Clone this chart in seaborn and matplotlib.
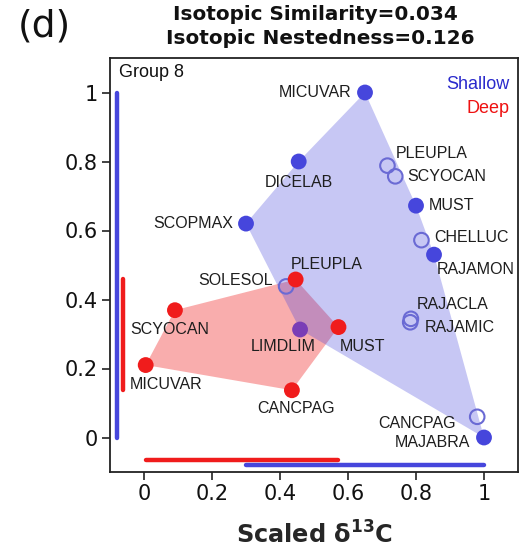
import numpy as np
import pandas as pd
import matplotlib
matplotlib.use("Agg")
import matplotlib.pyplot as plt
import seaborn as sns

# Shallow-water assemblage (scaled isotope positions)
shallow_species = ["MICUVAR", "DICELAB", "SCOPMAX", "MUST", "RAJAMON", "MAJABRA",
                   "PLEUPLA", "SCYOCAN", "CHELLUC", "RAJACLA", "RAJAMIC", "CANCPAG",
                   "SOLESOL", "LIMDLIM"]
shallow_d13c = [0.650, 0.455, 0.300, 0.800, 0.853, 1.000,
                0.716, 0.739, 0.816, 0.785, 0.783, 0.980,
                0.418, 0.459]
shallow_d15n = [1.000, 0.800, 0.620, 0.672, 0.530, 0.000,
                0.788, 0.757, 0.572, 0.344, 0.334, 0.060,
                0.438, 0.313]
# marker kind: filled, open, or shared with the deep assemblage
shallow_kind = ["filled", "filled", "filled", "filled", "filled", "filled",
                "open", "open", "open", "open", "open", "open",
                "open", "shared"]

# Deep-water assemblage
deep_species = ["PLEUPLA", "SCYOCAN", "MICUVAR", "CANCPAG", "MUST", "LIMDLIM"]
deep_d13c = [0.446, 0.091, 0.005, 0.435, 0.572, 0.459]
deep_d15n = [0.458, 0.369, 0.210, 0.137, 0.320, 0.313]

similarity = 0.034
nestedness = 0.126

x_ticks = [0, 0.2, 0.4, 0.6, 0.8, 1]
y_ticks = [0, 0.2, 0.4, 0.6, 0.8, 1]
x_tick_labels = ["0", "0.2", "0.4", "0.6", "0.8", "1"]
y_tick_labels = ["0", "0.2", "0.4", "0.6", "0.8", "1"]

BLUE = "#4646dc"
BLUE_OPEN = "#6a6ad4"
RED = "#f01c1c"
PURPLE = "#7a3db6"
TXT = "#1e1e1e"

# label placement (offset in pixels, horizontal alignment)
shallow_label_pos = {
    "MICUVAR": (-14, 0, "right"), "DICELAB": (0, -21, "center"),
    "SCOPMAX": (-13, 0, "right"), "MUST": (13, 0, "left"),
    "RAJAMON": (3, -15, "left"), "MAJABRA": (-14, -5, "right"),
    "PLEUPLA": (8, 12, "left"), "SCYOCAN": (12, 0, "left"),
    "CHELLUC": (13, 3, "left"), "RAJACLA": (6, 14, "left"),
    "RAJAMIC": (15, -5, "left"), "CANCPAG": (-21, -7, "right"),
    "SOLESOL": (-13, 6, "right"), "LIMDLIM": (-17, -17, "center"),
}
deep_label_pos = {
    "PLEUPLA": (-5, 15, "left"), "SCYOCAN": (-5, -19, "center"),
    "MICUVAR": (20, -19, "center"), "CANCPAG": (4, -18, "center"),
    "MUST": (1, -19, "left"), "LIMDLIM": None,
}


def convex_hull(xs, ys):
    pts = sorted(set(zip(xs, ys)))

    def cross(o, a, b):
        return (a[0] - o[0]) * (b[1] - o[1]) - (a[1] - o[1]) * (b[0] - o[0])

    lower, upper = [], []
    for p in pts:
        while len(lower) >= 2 and cross(lower[-2], lower[-1], p) <= 0:
            lower.pop()
        lower.append(p)
    for p in reversed(pts):
        while len(upper) >= 2 and cross(upper[-2], upper[-1], p) <= 0:
            upper.pop()
        upper.append(p)
    hull = lower[:-1] + upper[:-1]
    return np.array(hull)


sns.set_style("ticks")
plt.rcParams["font.family"] = ["DejaVu Sans"]

shallow = pd.DataFrame({"species": shallow_species, "x": shallow_d13c,
                        "y": shallow_d15n, "kind": shallow_kind})
deep = pd.DataFrame({"species": deep_species, "x": deep_d13c, "y": deep_d15n})

fig = plt.figure(figsize=(5.27, 5.49), dpi=100)
ax = fig.add_axes([110 / 527, 1 - 472 / 549, 408 / 527, 414 / 549])

# convex hulls
h_d = convex_hull(deep.x, deep.y)
ax.fill(h_d[:, 0], h_d[:, 1], color=RED, alpha=0.36, lw=0, zorder=1)
h_s = convex_hull(shallow.x, shallow.y)
ax.fill(h_s[:, 0], h_s[:, 1], color=BLUE, alpha=0.3, lw=0, zorder=2)

# ranges along each axis
bar_kw = dict(lw=3.2, solid_capstyle="round", zorder=3)
ax.plot([-0.079, -0.079], [shallow.y.min(), shallow.y.max()], color=BLUE, **bar_kw)
ax.plot([-0.061, -0.061], [deep.y.min(), deep.y.max()], color=RED, **bar_kw)
ax.plot([deep.x.min(), deep.x.max()], [-0.064, -0.064], color=RED, **bar_kw)
ax.plot([shallow.x.min(), shallow.x.max()], [-0.081, -0.081], color=BLUE, **bar_kw)

# points
open_pts = shallow[shallow.kind == "open"]
sns.scatterplot(data=open_pts, x="x", y="y", ax=ax, s=110, facecolor="none",
                edgecolor=BLUE_OPEN, linewidth=1.5, zorder=4, legend=False)
sns.scatterplot(data=deep[deep.species != "LIMDLIM"], x="x", y="y", ax=ax, s=130,
                color=RED, edgecolor="none", zorder=5, legend=False)
sns.scatterplot(data=shallow[shallow.kind == "filled"], x="x", y="y", ax=ax, s=130,
                color=BLUE, edgecolor="none", zorder=5, legend=False)
sns.scatterplot(data=shallow[shallow.kind == "shared"], x="x", y="y", ax=ax, s=130,
                color=PURPLE, edgecolor="none", zorder=5, legend=False)

lab_kw = dict(textcoords="offset pixels", va="center", fontsize=11.5,
              color=TXT, family=["Liberation Sans", "DejaVu Sans"], zorder=6)
for _, r in shallow.iterrows():
    dx, dy, ha = shallow_label_pos[r.species]
    ax.annotate(r.species, (r.x, r.y), xytext=(dx, dy), ha=ha, **lab_kw)
for _, r in deep.iterrows():
    pos = deep_label_pos[r.species]
    if pos is None:
        continue
    dx, dy, ha = pos
    ax.annotate(r.species, (r.x, r.y), xytext=(dx, dy), ha=ha, **lab_kw)

ax.set_xlim(-0.1, 1.1)
ax.set_ylim(-0.1, 1.1)
ax.set_xticks(x_ticks)
ax.set_xticklabels(x_tick_labels)
ax.set_yticks(y_ticks)
ax.set_yticklabels(y_tick_labels)
ax.tick_params(direction="out", length=6, width=1.2, labelsize=15, color="#222222",
               labelcolor="#111111", pad=3)
for s in ax.spines.values():
    s.set_linewidth(1.3)
    s.set_color("#222222")
ax.set_xlabel("Scaled δ$^{\\mathbf{13}}$C", fontsize=17.3, fontweight="bold", labelpad=12)
ax.set_ylabel("")

ax.text(0.022, 0.965, "Group 8", transform=ax.transAxes, ha="left", va="center",
        fontsize=13, color="#111111", family=["Liberation Sans", "DejaVu Sans"])
ax.text(0.98, 0.937, "Shallow", transform=ax.transAxes, ha="right", va="center",
        fontsize=13, color="#2a2acc", family=["Liberation Sans", "DejaVu Sans"])
ax.text(0.98, 0.878, "Deep", transform=ax.transAxes, ha="right", va="center",
        fontsize=13, color="#ee1111", family=["Liberation Sans", "DejaVu Sans"])

fig.text(315 / 527, 1 - 15 / 549, f"Isotopic Similarity={similarity:.3f}",
         ha="center", va="center", fontsize=14.4, fontweight="bold", color="#111111")
fig.text(320 / 527, 1 - 38 / 549, f"Isotopic Nestedness={nestedness:.3f}",
         ha="center", va="center", fontsize=14.4, fontweight="bold", color="#111111")
fig.text(18 / 527, 1 - 27 / 549, "(d)", ha="left", va="center", fontsize=27,
         color="#111111")

fig.savefig("out.png", dpi=100)
